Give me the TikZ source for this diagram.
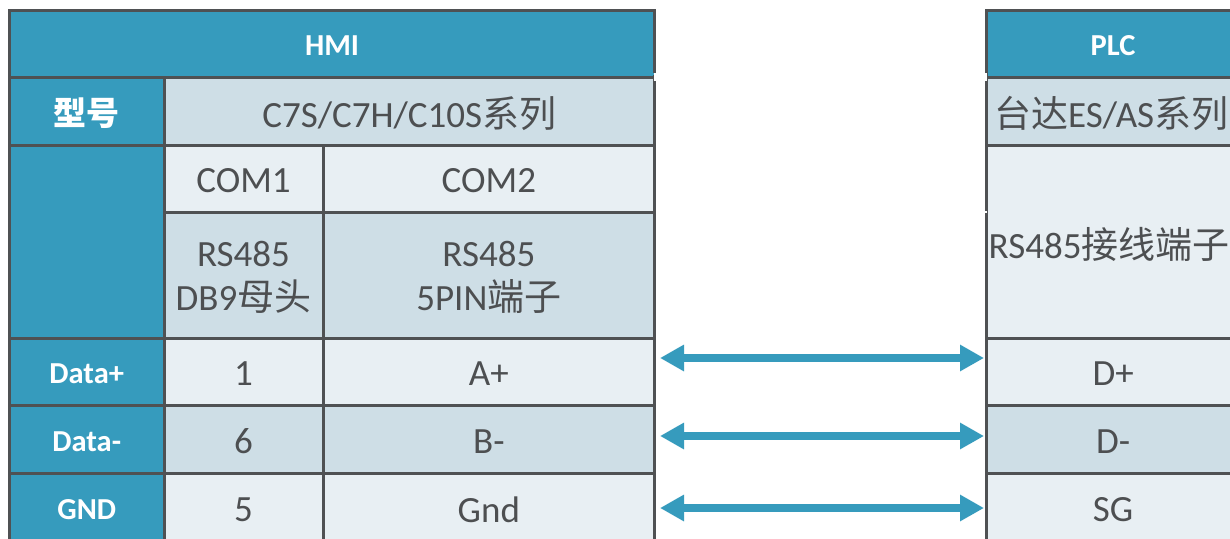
\documentclass[tikz,border=0pt]{standalone}
\usepackage{fontspec}
\setmainfont{Carlito}
\newfontfamily\cjk{Noto Sans CJK SC}
\usetikzlibrary{arrows.meta}
\definecolor{hdr}{HTML}{369BBD}
\definecolor{rowd}{HTML}{CEDEE6}
\definecolor{rowl}{HTML}{E8EFF3}
\definecolor{edgec}{HTML}{4F5153}
\definecolor{txt}{HTML}{4D4F51}
\newcommand{\cjkt}[1]{{\cjk\fontsize{37}{44}\selectfont #1}}
\newcommand{\cellat}[7]{% name, style, x0, y0, x1, y1, text
  \pgfmathsetmacro{\cw}{#5-#3}\pgfmathsetmacro{\ch}{#6-#4}%
  \node[#2,minimum width=\cw pt,minimum height=\ch pt] (#1) at ({(#3+#5)/2},{(#4+#6)/2}) {};
  \node[#2 text] (#1 label) at ([yshift=-2.5pt]#1.center) {#7};}
\tikzset{
  basecell/.style={draw=edgec,line width=3pt,inner sep=0pt,outer sep=0pt,rectangle},
  basetext/.style={inner sep=0pt,outer sep=0pt,align=center},
  blue/.style={basecell,fill=hdr},
  blue text/.style={basetext,text=white,font=\fontsize{30.5}{36}\selectfont\bfseries},
  bluebig/.style={basecell,fill=hdr},
  bluebig text/.style={basetext,text=white,font=\cjk\fontsize{33}{40}\selectfont\bfseries},
  dark/.style={basecell,fill=rowd},
  dark text/.style={basetext,text=txt,font=\fontsize{37}{44}\selectfont},
  light/.style={basecell,fill=rowl},
  light text/.style={basetext,text=txt,font=\fontsize{37}{44}\selectfont},
  link/.style={hdr,line width=8pt,{Triangle[length=24pt,width=25pt]}-{Triangle[length=24pt,width=25pt]}},
  notch/.style={fill=white,draw=none}
}
\begin{document}
\begin{tikzpicture}[x=1pt,y=-1pt]
\useasboundingbox (0,0) rectangle (1230,538);
\clip (0,0) rectangle (1230,538);
\fill[white] (0,0) rectangle (1230,538);
% HMI table
\cellat{hmi}{blue}{9.5}{10}{654.7}{77}{HMI}
\cellat{model}{bluebig}{9.5}{77}{164}{145}{型号}
\cellat{series}{dark}{164}{77}{654.7}{145}{C7S/C7H/C10S\cjkt{系列}}
\cellat{blank}{blue}{9.5}{145}{164}{338}{}
\cellat{com1}{light}{164}{145}{323}{212}{COM1}
\cellat{com2}{light}{323}{145}{654.7}{212}{COM2}
\cellat{rsa}{dark}{164}{212}{323}{338}{RS485\\DB9\cjkt{母头}}
\cellat{rsb}{dark}{323}{212}{654.7}{338}{RS485\\5PIN\cjkt{端子}}
\cellat{dp}{blue}{9.5}{338}{164}{405}{Data+}
\cellat{dpa}{light}{164}{338}{323}{405}{1}
\cellat{dpb}{light}{323}{338}{654.7}{405}{A+}
\cellat{dm}{blue}{9.5}{405}{164}{473}{Data-}
\cellat{dma}{dark}{164}{405}{323}{473}{6}
\cellat{dmb}{dark}{323}{405}{654.7}{473}{B-}
\cellat{gnd}{blue}{9.5}{473}{164}{542}{GND}
\cellat{gnda}{light}{164}{473}{323}{542}{5}
\cellat{gndb}{light}{323}{473}{654.7}{542}{Gnd}
% PLC table
\cellat{plc}{blue}{986.3}{10}{1240}{77}{PLC}
\cellat{plcs}{dark}{986.3}{77}{1236}{145}{\cjkt{台达}ES/AS\cjkt{系列}}
\cellat{plct}{light}{986.3}{145}{1232}{338}{RS485\cjkt{接线端子}}
\cellat{plcp}{light}{986.3}{338}{1240}{405}{D+}
\cellat{plcm}{dark}{986.3}{405}{1240}{473}{D-}
\cellat{plcg}{light}{986.3}{473}{1240}{542}{SG}
% breaks in the outer rules
\fill[notch] (653.6,73) rectangle (657,81);
\fill[hdr] (652,73) rectangle (653.6,75);
\fill[notch] (984.5,73) rectangle (987.2,81);
\fill[notch] (984.5,211) rectangle (987.2,213);
% links
\coordinate (la) at (660,358); \coordinate (ra) at (984,358);
\coordinate (lb) at (660,436); \coordinate (rb) at (984,436);
\coordinate (lc) at (660,508); \coordinate (rc) at (984,508);
\draw[link] (la) -- (ra);
\draw[link] (lb) -- (rb);
\draw[link] (lc) -- (rc);
\end{tikzpicture}
\end{document}
